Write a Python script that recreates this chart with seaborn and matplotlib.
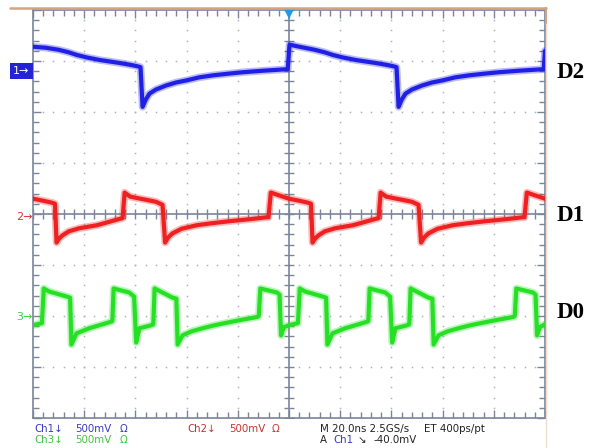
import numpy as np
import pandas as pd
import matplotlib
matplotlib.use("Agg")
import matplotlib.pyplot as plt
import seaborn as sns
from matplotlib.patches import Rectangle
from matplotlib.lines import Line2D

# ---------------- data ----------------
# time in ns (20 ns/div, 10 div), voltage in V relative to channel ground
t_ch1 = [0, 5, 10, 14, 17, 21, 26, 30, 34, 37.5, 40.5, 42, 42.8, 44, 45.5, 48,
         52, 56, 60, 65, 70.5, 76, 82, 90, 99.5,
         100.2, 105, 110, 114, 117, 121, 126, 130, 134, 137.5, 140.5, 142,
         142.8, 144, 145.5, 148, 152, 156, 160, 165, 170.5, 176, 182, 190,
         199.5, 200]
v_ch1 = [0.24, 0.23, 0.21, 0.185, 0.16, 0.135, 0.11, 0.095, 0.08, 0.065, 0.05,
         0.04, -0.35, -0.28, -0.22, -0.18, -0.14, -0.11, -0.09, -0.06, -0.04,
         -0.025, -0.01, 0.005, 0.02,
         0.26, 0.235, 0.21, 0.185, 0.16, 0.135, 0.11, 0.095, 0.08, 0.065, 0.05,
         0.04, -0.35, -0.28, -0.22, -0.18, -0.14, -0.11, -0.09, -0.06, -0.04,
         -0.025, -0.01, 0.005, 0.02, 0.20]

t_ch2 = [0, 4, 7.5, 8.6, 9.2, 10.2, 11.5, 14, 18, 25, 30, 35, 35.8, 38, 43,
         48, 50.6, 51.6, 52.8, 54.5, 58, 64, 70, 77, 85, 92, 92.9, 97.6,
         100, 104, 107.5, 108.6, 109.2, 110.2, 111.5, 114, 118, 125, 130, 135,
         135.8, 138, 143, 148, 150.6, 151.6, 152.8, 154.5, 158, 164, 170, 177,
         185, 192, 192.9, 197.6, 200]
v_ch2 = [0.18, 0.16, 0.14, 0.13, -0.25, -0.21, -0.18, -0.14, -0.11, -0.08,
         -0.045, -0.01, 0.24, 0.20, 0.175, 0.15, 0.12, -0.25, -0.20, -0.16,
         -0.115, -0.08, -0.06, -0.04, -0.02, 0.00, 0.24, 0.20,
         0.18, 0.16, 0.14, 0.13, -0.25, -0.21, -0.18, -0.14, -0.11, -0.08,
         -0.045, -0.01, 0.24, 0.20, 0.175, 0.15, 0.12, -0.25, -0.20, -0.16,
         -0.115, -0.08, -0.06, -0.04, -0.02, 0.00, 0.24, 0.20, 0.18]

t_ch3 = [0, 3.5, 4.2, 6.3, 13.3, 14.5, 15, 17, 22, 26, 30, 31, 31.5, 37.6,
         39.5, 40.3, 41.6, 46.3, 47, 47.5, 54.5, 56, 56.5, 58.4, 62, 66.3, 71,
         76.9, 82, 87.5, 88.2, 88.8, 95.3, 96.3, 96.9, 98,
         100, 103.5, 104.2, 106.3, 113.3, 114.5, 115, 117, 122, 126, 130, 131,
         131.5, 137.6, 139.5, 140.3, 141.6, 146.3, 147, 147.5, 154.5, 156,
         156.5, 158.4, 162, 166.3, 171, 176.9, 182, 187.5, 188.2, 188.8, 195.3,
         196.3, 196.9, 198, 200]
v_ch3 = [-0.08, -0.06, 0.28, 0.25, 0.20, 0.19, -0.27, -0.16, -0.11, -0.08,
         -0.05, -0.04, 0.28, 0.24, 0.20, -0.25, -0.11, -0.08, -0.07, 0.28, 0.19,
         0.18, -0.27, -0.18, -0.14, -0.11, -0.08, -0.05, -0.025, 0.00, 0.01,
         0.28, 0.24, 0.22, -0.18, -0.10,
         -0.08, -0.06, 0.28, 0.25, 0.20, 0.19, -0.27, -0.16, -0.11, -0.08,
         -0.05, -0.04, 0.28, 0.24, 0.20, -0.25, -0.11, -0.08, -0.07, 0.28,
         0.19, 0.18, -0.27, -0.18, -0.14, -0.11, -0.08, -0.05, -0.025, 0.00,
         0.01, 0.28, 0.24, 0.22, -0.18, -0.10, -0.07]

channels = ["Ch1", "Ch2", "Ch3"]
signal_names = ["D2", "D1", "D0"]
channel_pos_div = [2.80, -0.06, -2.02]      # ground marker positions (div)
volts_per_div = 0.5
time_per_div = 20.0
footer_row1 = ["Ch1\u2193", "500mV", "\u03a9", "Ch2\u2193", "500mV", "\u03a9",
               "M 20.0ns 2.5GS/s", "ET 400ps/pt"]
footer_row2 = ["Ch3\u2193", "500mV", "\u03a9", "A", "Ch1", "\u2198", "-40.0mV"]

# ---------------- figure ----------------
sns.set_style("white")
plt.rcParams["font.family"] = ["DejaVu Sans"]

W, H = 590, 448
fig = plt.figure(figsize=(W / 100, H / 100), dpi=100)
fig.patch.set_facecolor("white")


def fx(px):
    return px / W


def fy(py):
    return 1 - py / H


ax = fig.add_axes([fx(33), fy(418), 512 / W, 408 / H])
ax.set_xlim(0, 10 * time_per_div)
ax.set_ylim(-4, 4)

FRAME = "#7A859B"
DOT = "#AEB3BB"
colors = {"Ch1": "#2020E4", "Ch2": "#EE2020", "Ch3": "#26E026"}

# dotted graticule
for k in range(1, 10):
    if k == 5:
        continue
    ys = np.arange(-4, 4.001, 0.2)
    ax.plot(np.full_like(ys, k * time_per_div), ys, ls="none", marker="s",
            ms=1.1, mew=0, color=DOT, zorder=1)
for k in range(-3, 4):
    if k == 0:
        continue
    xs = np.arange(0, 200.001, 4)
    ax.plot(xs, np.full_like(xs, k, dtype=float), ls="none", marker="s",
            ms=1.1, mew=0, color=DOT, zorder=1)

# center cross with ticks
ax.axhline(0, color=FRAME, lw=1.2, zorder=2)
ax.axvline(100, color=FRAME, lw=1.2, zorder=2)
xs = np.arange(0, 200.001, 4)
ax.plot(xs, np.zeros_like(xs), ls="none", marker="|", ms=7, mew=1.0,
        color=FRAME, zorder=2)
ys = np.arange(-4, 4.001, 0.2)
ax.plot(np.full_like(ys, 100), ys, ls="none", marker="_", ms=7, mew=1.0,
        color=FRAME, zorder=2)

# traces
frames = []
for ch, t, v, pos in zip(channels, [t_ch1, t_ch2, t_ch3],
                         [v_ch1, v_ch2, v_ch3], channel_pos_div):
    frames.append(pd.DataFrame({"t": t,
                                "div": pos + np.asarray(v) / volts_per_div,
                                "ch": ch}))
df = pd.concat(frames, ignore_index=True)

for ch in channels:
    sub = df[df.ch == ch]
    sns.lineplot(data=sub, x="t", y="div", color=colors[ch], lw=5.4,
                 alpha=0.3, sort=False, estimator=None, legend=False, ax=ax,
                 zorder=3)
    sns.lineplot(data=sub, x="t", y="div", color=colors[ch], lw=3.0,
                 alpha=1.0, sort=False, estimator=None, legend=False, ax=ax,
                 zorder=4)

ax.set_xlabel("")
ax.set_ylabel("")
ax.set_xticks(np.arange(0, 200.001, 20))
ax.set_xticks(np.arange(0, 200.001, 4), minor=True)
ax.set_yticks(np.arange(-4, 4.001, 1))
ax.set_yticks(np.arange(-4, 4.001, 0.2), minor=True)
ax.tick_params(which="both", direction="in", length=4, width=1.0, color=FRAME,
               top=True, right=True, bottom=True, left=True,
               labelbottom=False, labelleft=False)
ax.tick_params(which="major", length=6)
for s in ax.spines.values():
    s.set_color(FRAME)
    s.set_linewidth(1.2)
    s.set_visible(True)

# trigger marker at top center
ax.plot([100], [3.93], marker="v", ms=7, color="#1E9BE6", mew=0,
        clip_on=False, zorder=6)

# orange screen border
fig.add_artist(Line2D([fx(10), fx(546)], [fy(8), fy(8)], color="#D8A27F", lw=1.8))
fig.add_artist(Line2D([fx(546), fx(546)], [fy(8), fy(24)], color="#D8A27F", lw=1.5))
fig.add_artist(Line2D([fx(546), fx(546)], [fy(24), fy(448)], color="#F1DCCD", lw=1.0))


# channel ground markers
def gy(pos):
    return 214 - pos * 51


fig.add_artist(Rectangle((fx(10), fy(gy(channel_pos_div[0]) + 8)), 23 / W, 16 / H,
                         facecolor="#2424D6", edgecolor="none"))
fig.text(fx(21.5), fy(gy(channel_pos_div[0])), "1\u2192", color="white",
         fontsize=8, ha="center", va="center")
fig.text(fx(24), fy(gy(channel_pos_div[1])), "2\u2192", color="#D83434",
         fontsize=8, ha="center", va="center")
fig.text(fx(24), fy(gy(channel_pos_div[2])), "3\u2192", color="#3CCF3C",
         fontsize=8, ha="center", va="center")

# signal names on the right
for name, yy in zip(signal_names, [73, 215, 312]):
    fig.text(fx(557), fy(yy), name, fontsize=16.5, fontweight="bold",
             family="Liberation Serif", ha="left", va="center", color="black")

# footer text
BL, RD, GN, BK = "#3A3AC0", "#C83232", "#3CC83C", "#222222"
row1_x = [34, 75, 120, 187, 229, 272, 320, 424]
row1_c = [BL, BL, BL, RD, RD, RD, BK, BK]
for s, x, c in zip(footer_row1, row1_x, row1_c):
    fig.text(fx(x), fy(429), s, color=c, fontsize=7.4, ha="left", va="center")
row2_x = [34, 75, 120, 320, 333, 358, 373]
row2_c = [GN, GN, GN, BK, BL, BK, BK]
for s, x, c in zip(footer_row2, row2_x, row2_c):
    fig.text(fx(x), fy(440), s, color=c, fontsize=7.4, ha="left", va="center")

fig.savefig("out.png", dpi=100, facecolor="white")
